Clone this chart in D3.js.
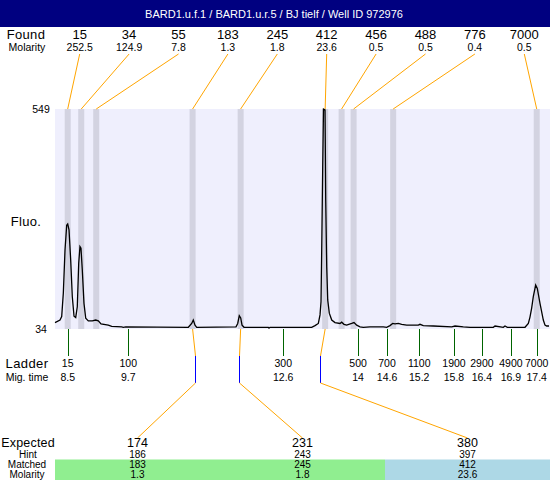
<!DOCTYPE html>
<html>
<head>
<meta charset="utf-8">
<script src="https://cdn.jsdelivr.net/npm/d3@7"></script>
<style>
  html, body { margin: 0; padding: 0; background: #fff; }
  svg { display: block; font-family: "Liberation Sans", Arial, sans-serif; }
</style>
</head>
<body>
<svg id="chart" width="550" height="480"></svg>
<script>
// ---------------- data ----------------
const title = "BARD1.u.f.1 / BARD1.u.r.5 / BJ tielf / Well ID 972976";

const foundSizes = [15, 34, 55, 183, 245, 412, 456, 488, 776, 7000];
const foundMolarity = [252.5, 124.9, 7.8, 1.3, 1.8, 23.6, 0.5, 0.5, 0.4, 0.5];

const ladderSizes = [15, 100, 300, 500, 700, 1100, 1900, 2900, 4900, 7000];
const ladderTimes = [8.50, 9.65, 12.59, 14.01, 14.56, 15.17, 15.83, 16.36, 16.91, 17.40];

const expectedSizes = [174, 231, 380];
const hintSizes = [186, 243, 397];
const matchedSizes = [183, 245, 412];
const matchedMolarity = [1.3, 1.8, 23.6];
const matchStatus = ["good", "good", "shifted"];

const fluoTicks = [34, 549];

// electropherogram trace (migration time s, fluorescence)
const traceTime = [8.259, 8.354, 8.386, 8.417, 8.449, 8.481, 8.500, 8.525, 8.557, 8.587,
  8.620, 8.652, 8.682, 8.709, 8.733, 8.752, 8.777, 8.809, 8.842, 8.891,
  8.967, 9.031, 9.081, 9.132, 9.270, 9.335, 9.525, 9.555, 9.601, 10.789,
  10.853, 10.883, 10.916, 10.948, 11.694, 11.726, 11.756, 11.783, 11.808, 11.846,
  12.307, 12.320, 12.339, 13.130, 13.193, 13.256, 13.288, 13.307, 13.320, 13.339,
  13.354, 13.383, 13.396, 13.415, 13.434, 13.464, 13.510, 13.572, 13.667, 13.699,
  13.743, 13.794, 13.889, 13.933, 13.984, 14.047, 14.109, 14.236, 14.489, 14.553,
  14.616, 14.667, 14.711, 14.774, 14.838, 14.933, 15.153, 15.185, 15.248, 15.438,
  15.787, 15.850, 16.007, 16.134, 16.576, 16.609, 16.766, 16.798, 16.842, 17.178,
  17.241, 17.272, 17.304, 17.335, 17.380, 17.411, 17.462, 17.525, 17.557, 17.589, 17.633];
const traceFluo = [49, 55, 63, 118, 219, 277, 280, 266, 195, 110,
  64, 61, 86, 188, 227, 223, 172, 94, 59, 53,
  53, 55, 53, 46, 43, 40, 39, 38, 39, 38,
  47, 55, 43, 38, 39, 47, 65, 60, 43, 38,
  38, 36, 38, 38, 42, 47, 67, 98, 219, 414,
  549, 547, 336, 180, 102, 71, 55, 49, 47, 50,
  45, 43, 47, 49, 43, 39, 38, 39, 39, 38,
  42, 47, 46, 47, 45, 43, 43, 45, 42, 41,
  39, 41, 39, 38, 38, 41, 38, 41, 38, 38,
  47, 62, 83, 110, 137, 129, 94, 55, 43, 41, 41];

// ---------------- drawing ----------------
const svg = d3.select("#chart");
const plotL = 55, plotR = 549, plotT = 109, plotB = 329;

const x = d3.scaleLinear().domain([8.259, 17.633]).range([plotL, plotR]);
const y = d3.scaleLinear().domain([34, 549]).range([plotB, plotT]);
// size -> migration time, piecewise linear through ladder
const sizeToTime = d3.scaleLinear().domain(ladderSizes).range(ladderTimes);
const sx = s => x(sizeToTime(s));
const snap = v => Math.round(v) + 0.5;

// header
svg.append("rect").attr("x", 0).attr("y", 0).attr("width", 550).attr("height", 27).attr("fill", "#000080");
svg.append("text").attr("x", 274).attr("y", 14).attr("text-anchor", "middle")
  .attr("dominant-baseline", "central").attr("fill", "#fff").attr("font-size", 11).text(title);

// left labels
function label(txt, cx, cy, size, ls) {
  svg.append("text").attr("x", cx).attr("y", cy).attr("text-anchor", "middle")
    .attr("dominant-baseline", "central").attr("font-size", size)
    .attr("letter-spacing", ls || 0).attr("fill", "#000").text(txt);
}
label("Found", 26, 34, 13, 0.3);
label("Molarity", 27, 47, 10.5, 0);
label("Fluo.", 26, 221, 13, 0.3);
label("Ladder", 27, 363, 13, 0.4);
label("Mig. time", 27, 377, 10.5, 0);
label("Expected", 28, 443, 12.5, 0.2);
label("Hint", 28, 454.5, 10, 0);
label("Matched", 27, 464.5, 10, 0);
label("Molarity", 27, 474.5, 10, 0);

// plot background
svg.append("rect").attr("x", plotL).attr("y", plotT).attr("width", 550 - plotL).attr("height", plotB - plotT)
  .attr("fill", "#efeffd");

// found peak bands
svg.append("g").selectAll("rect").data(foundSizes).join("rect")
  .attr("x", d => sx(d) - 3).attr("y", plotT).attr("width", 6).attr("height", plotB - plotT)
  .attr("fill", "#d3d3e1");

// y tick labels
svg.append("g").selectAll("text").data(fluoTicks).join("text")
  .attr("x", 41).attr("y", d => y(d)).attr("text-anchor", "middle")
  .attr("dominant-baseline", "central").attr("font-size", 10.5).text(d => d);

// found columns
const foundCol = d3.scaleBand().domain(d3.range(foundSizes.length)).range([plotL, plotR]);
const fcx = i => foundCol(i) + foundCol.bandwidth() / 2;
const fg = svg.append("g");
fg.selectAll("text.sz").data(foundSizes).join("text").attr("class", "sz")
  .attr("x", (d, i) => fcx(i)).attr("y", 34).attr("text-anchor", "middle")
  .attr("dominant-baseline", "central").attr("font-size", 13).text(d => d);
fg.selectAll("text.mol").data(foundMolarity).join("text").attr("class", "mol")
  .attr("x", (d, i) => fcx(i)).attr("y", 47).attr("text-anchor", "middle")
  .attr("dominant-baseline", "central").attr("font-size", 10.5).text(d => d3.format(".1f")(d));
fg.selectAll("line").data(foundSizes).join("line")
  .attr("x1", (d, i) => fcx(i)).attr("y1", 54).attr("x2", d => sx(d)).attr("y2", plotT)
  .attr("stroke", "#ffa500").attr("stroke-width", 1);

// trace
const pts = traceTime.map((t, i) => [t, traceFluo[i]]);
svg.append("path").datum(pts)
  .attr("d", d3.line().x(d => x(d[0])).y(d => y(d[1])))
  .attr("fill", "none").attr("stroke", "#000").attr("stroke-width", 1.3);

// ladder ticks and labels
const lg = svg.append("g");
lg.selectAll("line").data(ladderTimes).join("line")
  .attr("x1", d => snap(x(d))).attr("x2", d => snap(x(d))).attr("y1", plotB).attr("y2", 356)
  .attr("stroke", "#006400").attr("stroke-width", 1);
lg.selectAll("text.ls").data(ladderSizes).join("text").attr("class", "ls")
  .attr("x", (d, i) => x(ladderTimes[i])).attr("y", 363).attr("text-anchor", "middle")
  .attr("dominant-baseline", "central").attr("font-size", 10.5).text(d => d);
const tfmt = d => { const s = d3.format(".1f")(d); return s.endsWith(".0") ? s.slice(0, -2) : s; };
lg.selectAll("text.lt").data(ladderTimes).join("text").attr("class", "lt")
  .attr("x", d => x(d)).attr("y", 377).attr("text-anchor", "middle")
  .attr("dominant-baseline", "central").attr("font-size", 10.5).text(tfmt);

// expected table
const expCol = d3.scaleBand().domain(d3.range(expectedSizes.length)).range([plotL, 550]);
const ecx = i => expCol(i) + expCol.bandwidth() / 2;
const statusColor = { good: "#90ee90", shifted: "#add8e6" };
svg.append("g").selectAll("rect").data(matchStatus).join("rect")
  .attr("x", (d, i) => expCol(i)).attr("y", 459.5).attr("width", expCol.bandwidth()).attr("height", 20.5)
  .attr("fill", d => statusColor[d]);

const cg = svg.append("g").attr("fill", "none").attr("stroke-width", 1);
matchedSizes.forEach((m, i) => {
  const px = sx(m), hx = snap(sx(hintSizes[i]));
  cg.append("polyline").attr("points", `${px},${plotB} ${hx},356`).attr("stroke", "#ffa500");
  cg.append("line").attr("x1", hx).attr("x2", hx).attr("y1", 356).attr("y2", 383).attr("stroke", "#0000ff");
  cg.append("line").attr("x1", hx).attr("y1", 383).attr("x2", ecx(i)).attr("y2", 438).attr("stroke", "#ffa500");
});

const rows = [
  { vals: expectedSizes, y: 443, size: 12.5, f: d => d },
  { vals: hintSizes, y: 454.5, size: 10, f: d => d },
  { vals: matchedSizes, y: 464.5, size: 10, f: d => d },
  { vals: matchedMolarity, y: 474.5, size: 10, f: d => d3.format(".1f")(d) }
];
rows.forEach(r => {
  svg.append("g").selectAll("text").data(r.vals).join("text")
    .attr("x", (d, i) => ecx(i)).attr("y", r.y).attr("text-anchor", "middle")
    .attr("dominant-baseline", "central").attr("font-size", r.size).text(r.f);
});
</script>
</body>
</html>
